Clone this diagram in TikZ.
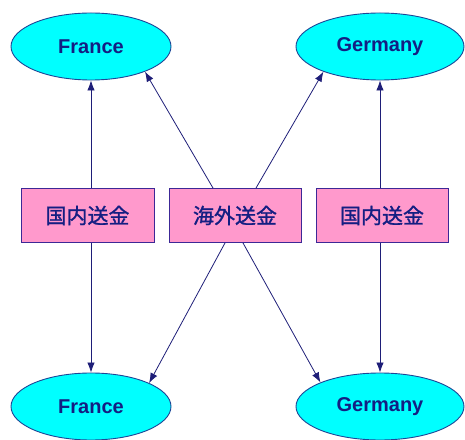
\documentclass[tikz,border=0pt]{standalone}
\usepackage{fontspec}
\setmainfont{Liberation Sans}
\newfontfamily\cjk{Noto Sans CJK JP}[FakeBold=1.2]
\usetikzlibrary{shapes.geometric,arrows.meta}
\definecolor{ellfill}{RGB}{0,255,255}
\definecolor{elldraw}{RGB}{30,70,150}
\definecolor{txtblue}{RGB}{20,30,130}
\definecolor{boxfill}{RGB}{255,153,204}
\definecolor{boxdraw}{RGB}{60,40,150}
\definecolor{arrcol}{RGB}{30,30,120}
\tikzset{
  country/.style={ellipse, draw=elldraw, fill=ellfill, line width=0.9pt, inner sep=0pt,
    minimum height=67pt, text=txtblue, font=\bfseries\fontsize{20}{24}\selectfont},
  transfer/.style={rectangle, draw=boxdraw, fill=boxfill, line width=0.9pt, inner sep=0pt,
    minimum width=132pt, minimum height=54pt, text=txtblue, font=\cjk\fontsize{21}{25}\selectfont},
  arr/.style={draw=arrcol, line width=0.8pt, -{Latex[length=10pt,width=7.5pt]}}
}
\begin{document}
\begin{tikzpicture}[x=1pt,y=1pt]
\useasboundingbox (0,0) rectangle (465,439);
\node[country, minimum width=160pt] (fr1) at (91,392.5) {France};
\node[country, minimum width=168pt] (de1) at (380,392.5) {Germany};
\node[country, minimum width=160pt] (fr2) at (91,32.5) {France};
\node[country, minimum width=168pt] (de2) at (380,32.5) {Germany};
\node[transfer, minimum width=133pt] (b1) at (87.5,223.5) {国内送金};
\node[transfer] (hw) at (235,223.5) {海外送金};
\node[transfer] (b2) at (382,223.5) {国内送金};
\draw[arr] (b1.north -| fr1.south) -- (fr1.south);
\draw[arr] (b1.south -| fr2.north) -- (fr2.north);
\draw[arr] (b2.north -| de1.south) -- (de1.south);
\draw[arr] (b2.south -| de2.north) -- (de2.north);
\draw[arr] ([xshift=-22pt]hw.north) -- (fr1.-25);
\draw[arr] ([xshift=21pt]hw.north) -- (de1.-156);
\draw[arr] ([xshift=-10pt]hw.south) -- (fr2.22);
\draw[arr] ([xshift=8pt]hw.south) -- (de2.158);
\end{tikzpicture}
\end{document}
